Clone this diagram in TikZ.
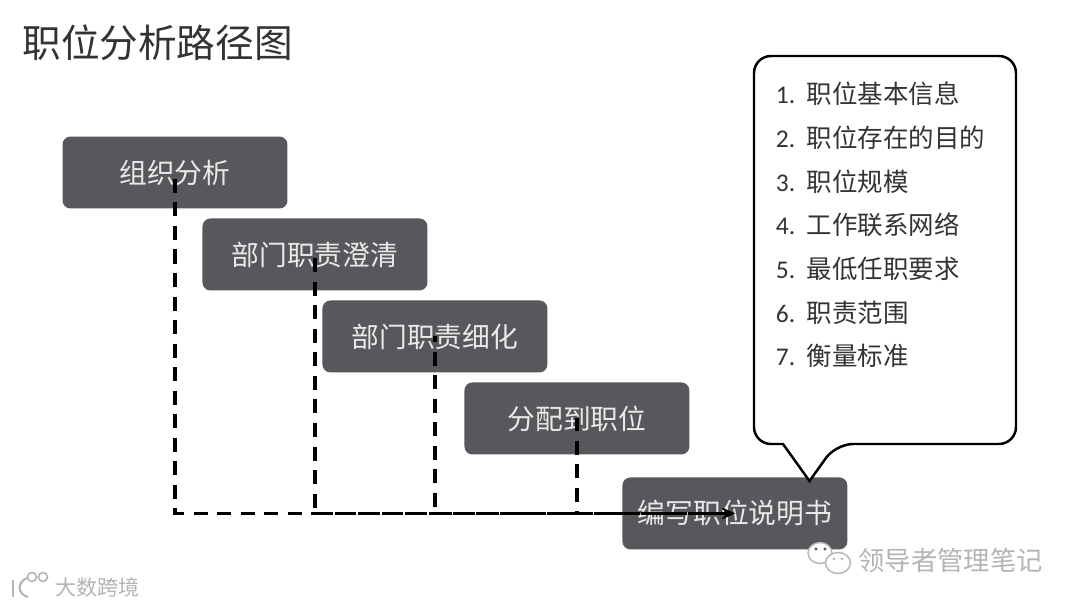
\documentclass[tikz,border=0pt]{standalone}
\usepackage{fontspec}
\setmainfont{Noto Sans CJK SC}
\newfontfamily\numfont{Carlito}
\usetikzlibrary{positioning, arrows.meta}
\definecolor{cBox}{HTML}{57585B}
\definecolor{cBoxText}{HTML}{E9E9E9}
\definecolor{cInk}{HTML}{333333}
\definecolor{cMark}{HTML}{B4B4B4}

\begin{document}
\begin{tikzpicture}[
  x=0.02cm, y=-0.02cm,
  stage/.style={
    fill=cBox, rounded corners=0.16cm, outer sep=0pt, inner sep=0pt,
    minimum width=4.5cm, minimum height=1.44cm,
    font=\fontsize{15.8pt}{18pt}\selectfont, text=cBoxText
  },
  item/.style={
    anchor=west, inner sep=0pt, text=cInk,
    font=\fontsize{14.5pt}{17pt}\selectfont
  },
  flow/.style={
    black, line width=2pt, dash pattern=on 8pt off 5.4pt, dash phase=#1,
    -{Stealth[length=7pt, width=6pt]}
  },
  mark/.style={
    inner sep=0pt, text=cMark, font=\fontsize{#1}{#1}\selectfont
  },
  bubble/.style={draw=cMark, fill=white, line width=0.8pt},
]
\useasboundingbox (0,0) rectangle (1080,608);

% title
\node[anchor=west, inner sep=0pt, text=cInk,
      font=\fontsize{22pt}{26pt}\selectfont] (title) at (22,43) {职位分析路径图};

% stages
\node[stage] (org) at (175,172.5) {组织分析};
\node[stage, below right=0.2cm and -1.7cm of org] (clarify) {部门职责澄清};
\node[stage, below right=0.2cm and -2.1cm of clarify] (refine) {部门职责细化};
\node[stage, below right=0.2cm and -1.66cm of refine] (assign) {分配到职位};
\node[stage, below right=0.46cm and -1.34cm of assign] (write) {编写职位说明书};

% dashed flows
\foreach \a/\p in {org/9.8pt, clarify/11.3pt, refine/4.8pt, assign/0.7pt} {
  \draw[flow=\p] (\a.center) |- (write.center);
}

% callout
\draw[line width=1.4pt, rounded corners=0.34cm, fill=white]
  (783,444) -- (754,444) -- (754,56) -- (1016,56) -- (1016,444) -- (836,444)
  [sharp corners] -- (809.5,481) -- cycle;

% list items
\foreach \i/\t [count=\n from 0] in {1/职位基本信息, 2/职位存在的目的, 3/职位规模,
  4/工作联系网络, 5/最低任职要求, 6/职责范围, 7/衡量标准} {
  \node[item] (item\i) at (775.5,{94+43.7*\n})
    {\hbox to 0.62cm{\numfont\i.\hfil}\t};
}

% watermarks
\node[mark=15pt, anchor=west] (lead) at (858,560) {领导者管理笔记};
\node[mark=12pt, anchor=west] (data) at (55,587) {大数跨境};

\draw[bubble] (820,553) ellipse (12 and 10.5);
\draw[bubble] (838,563) ellipse (12.5 and 10.5);
\fill[cBox] (816,549) circle (1.6) (825,549) circle (1.6);
\fill[cMark] (834,559) circle (1.3) (842,559) circle (1.3);

\draw[cMark, line width=1.2pt] (13,580) -- (13,597);
\draw[cMark, line width=1.2pt] (27,578) .. controls (17,582) and (17,594) .. (28,597);
\draw[cMark, line width=0.9pt] (32,577) circle (4.5) (43,577) circle (4.5);
\end{tikzpicture}
\end{document}
